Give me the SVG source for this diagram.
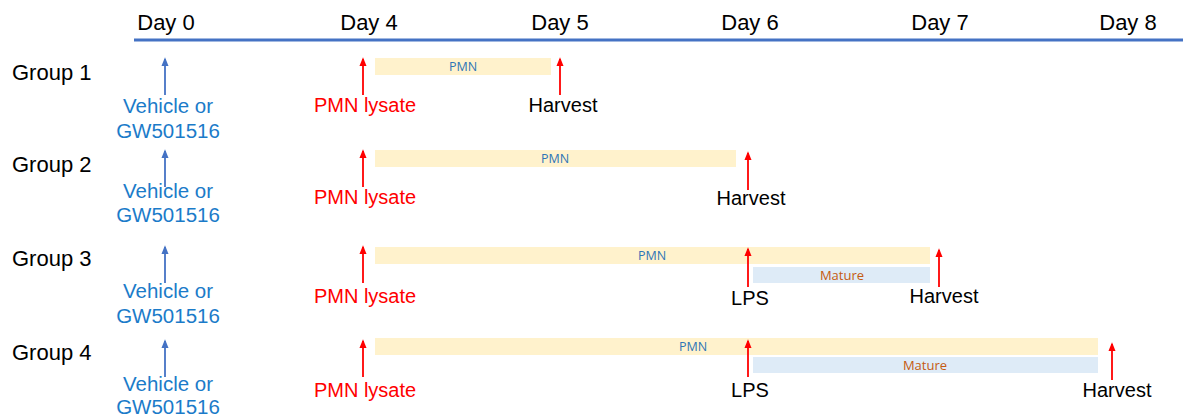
<svg xmlns="http://www.w3.org/2000/svg" width="1183" height="420" viewBox="0 0 1183 420">
<style>
.day{font-family:"Liberation Sans",Arial,sans-serif;font-size:22px;fill:#000;text-anchor:middle}
.grp{font-family:"Liberation Sans",Arial,sans-serif;font-size:22px;fill:#000}
.veh{font-family:"Liberation Sans",Arial,sans-serif;font-size:20.5px;fill:#1B7BC9;text-anchor:middle}
.lys{font-family:"Liberation Sans",Arial,sans-serif;font-size:20px;fill:#FF0000;text-anchor:middle}
.blk{font-family:"Liberation Sans",Arial,sans-serif;font-size:20px;fill:#000;text-anchor:middle}
.pmn{font-family:"Open Sans",sans-serif;font-size:12.5px;fill:#2E75B6;text-anchor:middle}
.mat{font-family:"Open Sans",sans-serif;font-size:13px;fill:#C55A11;text-anchor:middle}
.barP{fill:#FFF2CC}
.barM{fill:#DEEBF7}
.ab{stroke:#4472C4;stroke-width:1.8;fill:none;marker-end:url(#hb)}
.ar{stroke:#FF0000;stroke-width:1.8;fill:none;marker-end:url(#hr)}
</style>
<defs>
<marker id="hb" markerWidth="5" markerHeight="4" refX="4" refY="2" orient="auto" markerUnits="strokeWidth" viewBox="0 0 5 4">
<path d="M0,0 L5,2 L0,4 Z" fill="#4472C4"/>
</marker>
<marker id="hr" markerWidth="5" markerHeight="4" refX="4" refY="2" orient="auto" markerUnits="strokeWidth" viewBox="0 0 5 4">
<path d="M0,0 L5,2 L0,4 Z" fill="#FF0000"/>
</marker>
</defs>
<g id="timeline">
<line x1="134" y1="40" x2="1183" y2="40" stroke="#4472C4" stroke-width="3"/>
<text class="day" x="166" y="30">Day 0</text>
<text class="day" x="369" y="30">Day 4</text>
<text class="day" x="560" y="30">Day 5</text>
<text class="day" x="750" y="30">Day 6</text>
<text class="day" x="940" y="30">Day 7</text>
<text class="day" x="1128" y="30">Day 8</text>
</g>
<g id="group1">
<text class="grp" x="12" y="80">Group 1</text>
<rect class="barP" x="375" y="58" width="176" height="17"/>
<text class="pmn" x="463" y="71">PMN</text>
<text class="veh" x="168" y="113">Vehicle or</text>
<text class="veh" x="168" y="138">GW501516</text>
<text class="lys" x="365" y="112">PMN lysate</text>
<text class="blk" x="563" y="112">Harvest</text>
</g>
<g id="group2">
<text class="grp" x="12" y="172">Group 2</text>
<rect class="barP" x="375" y="150" width="361" height="17"/>
<text class="pmn" x="555" y="163">PMN</text>
<text class="veh" x="168" y="198">Vehicle or</text>
<text class="veh" x="168" y="222">GW501516</text>
<text class="lys" x="365" y="204">PMN lysate</text>
<text class="blk" x="751" y="205">Harvest</text>
</g>
<g id="group3">
<text class="grp" x="12" y="266">Group 3</text>
<rect class="barP" x="375" y="247" width="555" height="17"/>
<text class="pmn" x="652" y="260">PMN</text>
<rect class="barM" x="753" y="267" width="177" height="16"/>
<text class="mat" x="842" y="280">Mature</text>
<text class="veh" x="168" y="298">Vehicle or</text>
<text class="veh" x="168" y="323">GW501516</text>
<text class="lys" x="365" y="303">PMN lysate</text>
<text class="blk" x="750" y="305">LPS</text>
<text class="blk" x="944" y="303">Harvest</text>
</g>
<g id="group4">
<text class="grp" x="12" y="360">Group 4</text>
<rect class="barP" x="375" y="338" width="723" height="17"/>
<text class="pmn" x="693" y="351">PMN</text>
<rect class="barM" x="753" y="357" width="345" height="16"/>
<text class="mat" x="925" y="370">Mature</text>
<text class="veh" x="168" y="391">Vehicle or</text>
<text class="veh" x="168" y="414">GW501516</text>
<text class="lys" x="365" y="397">PMN lysate</text>
<text class="blk" x="750" y="397">LPS</text>
<text class="blk" x="1117" y="397">Harvest</text>
</g>
<g id="connectors">
<line class="ab" x1="165" y1="95" x2="165" y2="59"/>
<line class="ar" x1="363" y1="95" x2="363" y2="59"/>
<line class="ar" x1="560" y1="95" x2="560" y2="59"/>
<line class="ab" x1="165" y1="187" x2="165" y2="151"/>
<line class="ar" x1="363" y1="187" x2="363" y2="151"/>
<line class="ar" x1="748" y1="190" x2="748" y2="153"/>
<line class="ab" x1="165" y1="283" x2="165" y2="247"/>
<line class="ar" x1="363" y1="283" x2="363" y2="247"/>
<line class="ar" x1="748" y1="287" x2="748" y2="249"/>
<line class="ar" x1="939" y1="287" x2="939" y2="250"/>
<line class="ab" x1="165" y1="377" x2="165" y2="341"/>
<line class="ar" x1="363" y1="377" x2="363" y2="341"/>
<line class="ar" x1="748" y1="377" x2="748" y2="341"/>
<line class="ar" x1="1112" y1="380" x2="1112" y2="344"/>
</g>
</svg>
